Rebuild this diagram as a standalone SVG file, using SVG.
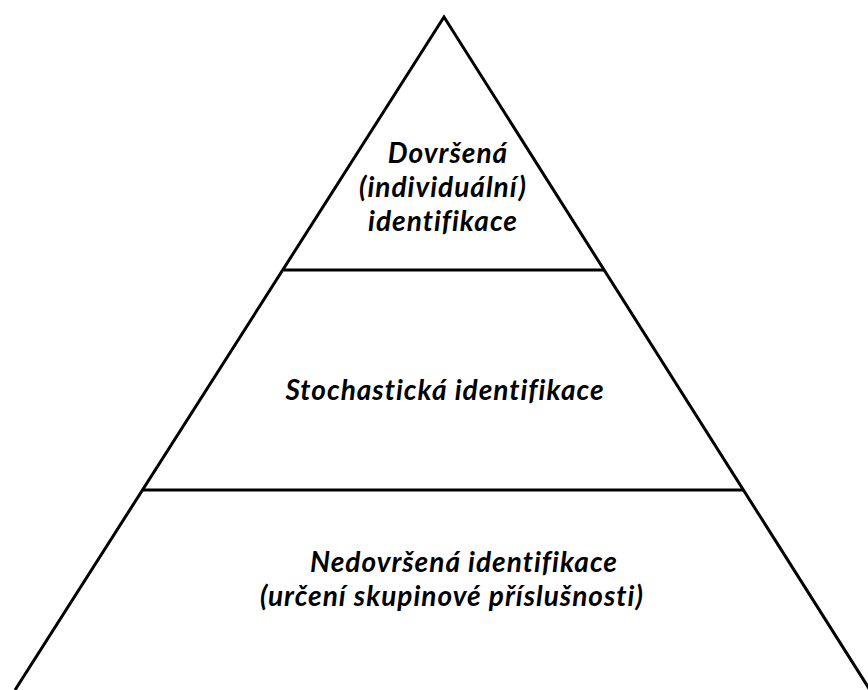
<svg xmlns="http://www.w3.org/2000/svg" width="868" height="690" viewBox="0 0 868 690">
  <style>
    .edge { fill: none; stroke: #000; stroke-width: 3; stroke-linejoin: miter; }
    .label { font-family: Lato, "Open Sans", "Liberation Sans", sans-serif; font-weight: bold; font-style: italic; font-size: 28px; letter-spacing: 1px; fill: #000; text-anchor: middle; }
  </style>
  <rect width="868" height="690" fill="#fff"/>
  <g id="connectors">
    <path class="edge" d="M15,690 L444,17 L870,690"/>
    <line class="edge" x1="284" y1="270" x2="604" y2="270"/>
    <line class="edge" x1="143" y1="490" x2="744" y2="490"/>
  </g>
  <g id="tier-top">
    <text class="label" x="448" y="163">Dovršená</text>
    <text class="label" x="443" y="197">(individuální)</text>
    <text class="label" x="443" y="231">identifikace</text>
  </g>
  <g id="tier-middle">
    <text class="label" x="445" y="400">Stochastická identifikace</text>
  </g>
  <g id="tier-bottom">
    <text class="label" x="464" y="572">Nedovršená identifikace</text>
    <text class="label" x="452" y="606">(určení skupinové příslušnosti)</text>
  </g>
</svg>
